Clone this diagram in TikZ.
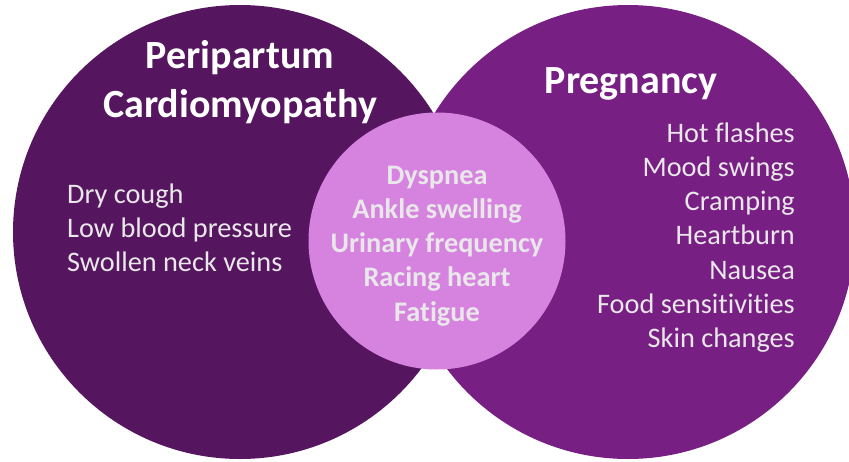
\documentclass[tikz,border=0pt]{standalone}
\usepackage{fontspec}
\setmainfont{Carlito}[Ligatures=NoCommon]
\definecolor{plumdark}{RGB}{85,22,95}
\definecolor{plummid}{RGB}{119,31,131}
\definecolor{orchidlight}{RGB}{214,131,224}
\definecolor{softgrey}{RGB}{233,231,233}

\begin{document}
\begin{tikzpicture}[
	x=1pt, y=-1pt,
	bubble/.style={ circle, inner sep=0pt, minimum size=454pt },
	heading/.style={ white, inner sep=0pt, anchor=base, font=\fontsize{40}{48}\selectfont\bfseries },
	item/.style={ softgrey, inner sep=0pt, font=\fontsize{28.3}{34}\selectfont },
	shared/.style={ softgrey, inner sep=0pt, anchor=base, font=\fontsize{28.3}{34}\selectfont\bfseries }
]
\useasboundingbox (0,0) rectangle (849,461);

\node at (240,232) (ppcm) [bubble,fill=plumdark] {};
\node at (628,232) (preg) [bubble,fill=plummid] {};
\node at (437,241) (both) [circle,inner sep=0pt,minimum size=257pt,fill=orchidlight] {};

\node at (240,68) (ppcm-a) [heading] {Peripartum};
\node at (240,117) (ppcm-b) [heading] {Cardiomyopathy};
\node at (631,93) (preg-a) [heading] {Pregnancy};

\foreach \txt [count=\i] in {Dry cough, Low blood pressure, Swollen neck veins}
	\node at (67,{203+34*(\i-1)}) (ppcm-\i) [item,anchor=base west] {\txt};

\foreach \txt [count=\i] in {Hot flashes, Mood swings, Cramping, Heartburn, Nausea, Food sensitivities, Skin changes}
	\node at (795,{142+34.3*(\i-1)}) (preg-\i) [item,anchor=base east] {\txt};

\foreach \txt [count=\i] in {Dyspnea, Ankle swelling, Urinary frequency, Racing heart, Fatigue}
	\node at (437,{184+34.3*(\i-1)}) (both-\i) [shared] {\txt};

\end{tikzpicture}
\end{document}
